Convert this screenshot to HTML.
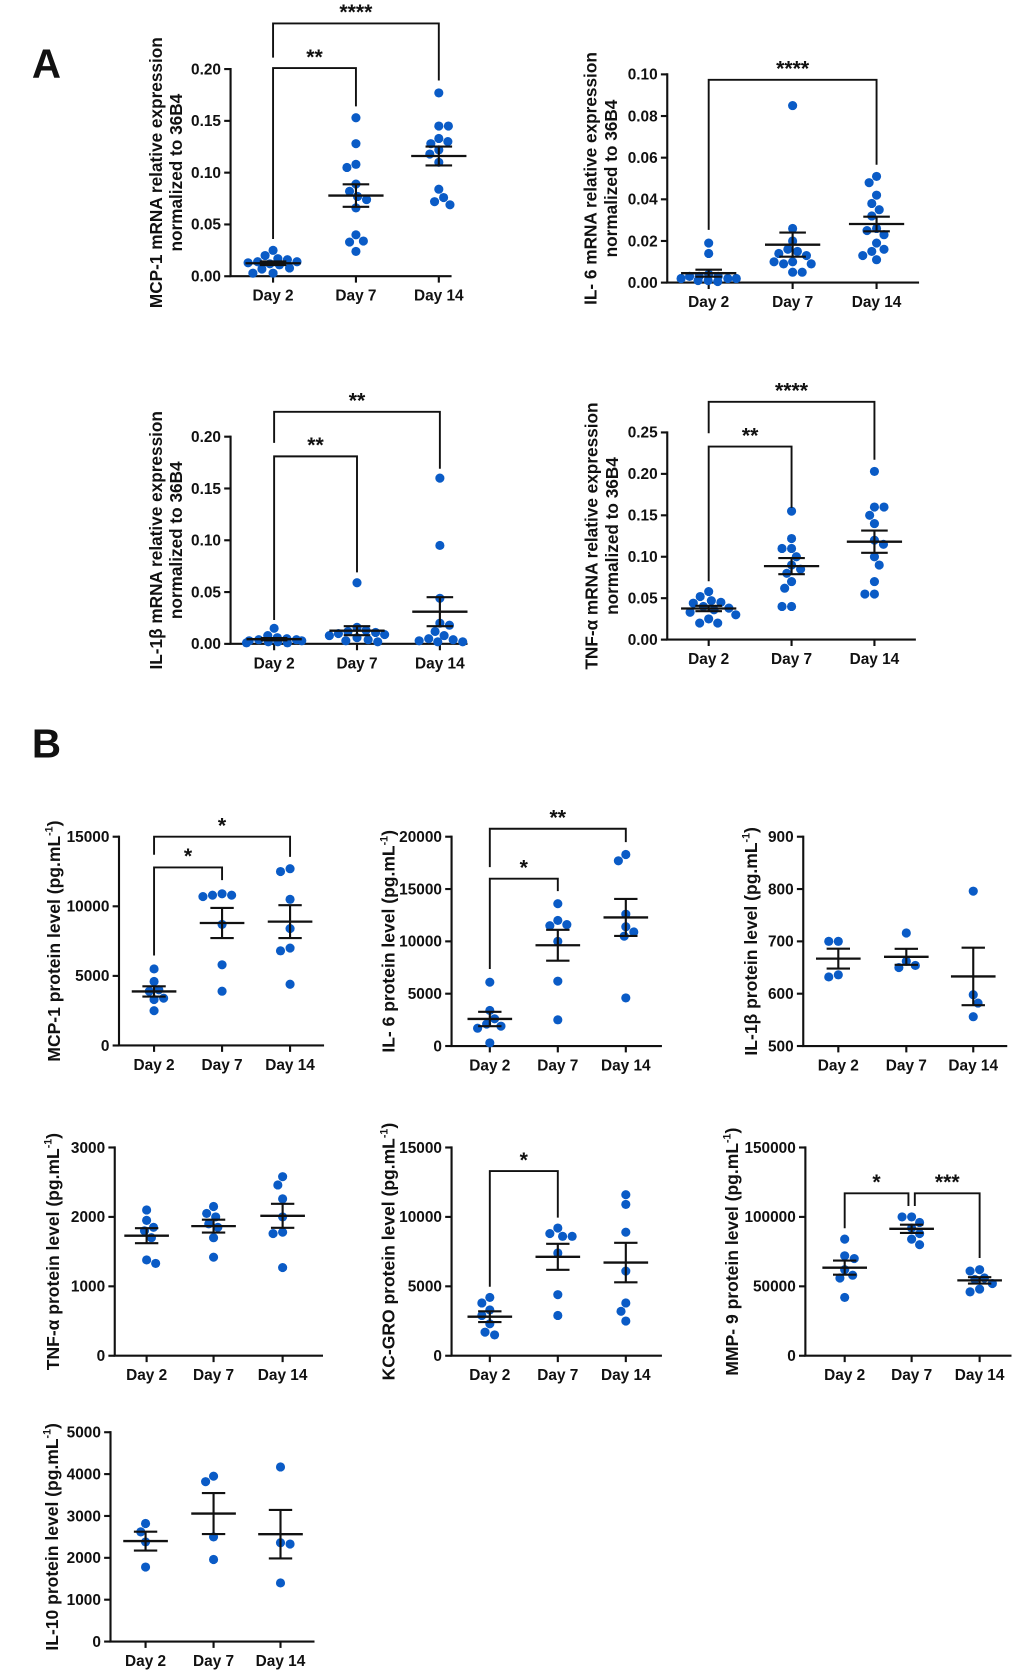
<!DOCTYPE html>
<html><head><meta charset="utf-8"><style>
html,body{margin:0;padding:0;background:#fff;}
svg{display:block;}
text{font-family:"Liberation Sans",Arial,sans-serif;font-weight:bold;fill:#111;}
</style></head><body>
<svg id="fig" width="1020" height="1673" viewBox="0 0 960 1574.6" preserveAspectRatio="none" xmlns="http://www.w3.org/2000/svg">
<text x="30" y="73" font-size="38">A</text>
<text x="30" y="713" font-size="38">B</text>
</svg>
<script>
const categories = ["Day 2","Day 7","Day 14"];
// A1 MCP-1 mRNA
const mcp1mRNA_d2 = [0.016,0.017,0.020,0.025,0.013,0.012,0.011,0.014,0.007,0.008,0.003,0.003,0.014];
const mcp1mRNA_d7 = [0.153,0.128,0.105,0.108,0.089,0.082,0.074,0.077,0.066,0.040,0.033,0.034,0.024];
const mcp1mRNA_d14 = [0.177,0.145,0.145,0.133,0.128,0.130,0.122,0.118,0.110,0.084,0.076,0.069,0.072];
// A2 IL-6 mRNA
const il6mRNA_d2 = [0.019,0.014,0.004,0.003,0.002,0.002,0.001,0.0005,0.001,0.002,0.003,0.003];
const il6mRNA_d7 = [0.085,0.026,0.020,0.016,0.015,0.014,0.013,0.010,0.010,0.009,0.009,0.005,0.005];
const il6mRNA_d14 = [0.051,0.048,0.042,0.038,0.035,0.032,0.026,0.025,0.023,0.019,0.016,0.015,0.013,0.011];
// A3 IL-1b mRNA
const il1bmRNA_d2 = [0.015,0.008,0.006,0.005,0.004,0.003,0.003,0.002,0.002,0.001,0.001,0.004];
const il1bmRNA_d7 = [0.059,0.016,0.013,0.012,0.011,0.010,0.009,0.008,0.006,0.004,0.003,0.002];
const il1bmRNA_d14 = [0.160,0.095,0.044,0.020,0.018,0.012,0.008,0.005,0.004,0.003,0.002,0.002];
// A4 TNF-a mRNA
const tnfmRNA_d2 = [0.058,0.052,0.047,0.045,0.044,0.040,0.038,0.036,0.033,0.030,0.025,0.020,0.020];
const tnfmRNA_d7 = [0.155,0.122,0.110,0.110,0.100,0.090,0.085,0.080,0.070,0.062,0.040,0.040];
const tnfmRNA_d14 = [0.203,0.160,0.160,0.150,0.140,0.120,0.115,0.100,0.090,0.070,0.055,0.055];
// B proteins
const mcp1P_d2 = [5500,4600,4000,3900,3300,3400,2500];
const mcp1P_d7 = [10900,10800,10700,10800,8700,5800,3900];
const mcp1P_d14 = [12700,12500,10500,8400,7000,6800,4400];
const il6P_d2 = [6100,3400,2600,2100,1900,1700,300];
const il6P_d7 = [13600,12000,11600,11500,10000,6200,2500];
const il6P_d14 = [18300,17700,12600,11400,10900,10500,4600];
const il1bP_d2 = [700,700,632,636];
const il1bP_d7 = [716,662,650,654];
const il1bP_d14 = [796,598,582,556];
const tnfP_d2 = [2100,1950,1850,1800,1700,1380,1330];
const tnfP_d7 = [2150,2050,2000,1900,1850,1700,1420];
const tnfP_d14 = [2580,2460,2260,2000,1780,1760,1270];
const kcP_d2 = [4200,3800,3300,2900,2300,1700,1500];
const kcP_d7 = [9200,8800,8600,8600,7400,4400,2900];
const kcP_d14 = [11600,10900,8900,6100,3800,3200,2500];
const mmpP_d2 = [84000,72000,70000,62000,58000,56000,42000];
const mmpP_d7 = [100000,100000,96000,92000,88000,84000,80000];
const mmpP_d14 = [62000,61000,56000,55000,52000,48000,46000];
const il10P_d2 = [2820,2620,2380,1780];
const il10P_d7 = [3950,3820,2500,1960];
const il10P_d14 = [4170,2360,2330,1400];

const NS="http://www.w3.org/2000/svg";
const svg=document.getElementById('fig');
function mk(tag,attrs,parent){const e=document.createElementNS(NS,tag);for(const k in attrs)e.setAttribute(k,attrs[k]);(parent||svg).appendChild(e);return e;}

const panels=[
 {id:'mcp1-mrna',ax:217,bottom:260,top:65,right:425,min:0,max:0.20,step:0.05,dec:2,cats:[257,335,413],data:[mcp1mRNA_d2,mcp1mRNA_d7,mcp1mRNA_d14],
  lab:["MCP-1 mRNA relative expression","normalized to 36B4"],labx:[147,166],mw:26,cw:12.5,
  br:[{a:0,b:1,y:0.201,la:0.036,lb:0.164,t:"**"},{a:0,b:2,y:0.244,la:0.211,lb:0.189,t:"****"}]},
 {id:'il6-mrna',ax:628,bottom:266,top:70,right:865,min:0,max:0.10,step:0.02,dec:2,cats:[667,746,825],data:[il6mRNA_d2,il6mRNA_d7,il6mRNA_d14],
  lab:["IL- 6 mRNA relative expression","normalized to 36B4"],labx:[556,575],mw:26,cw:12.5,
  br:[{a:0,b:2,y:0.0974,la:0.0253,lb:0.0566,t:"****"}]},
 {id:'il1b-mrna',ax:217,bottom:606,top:411,right:440,min:0,max:0.20,step:0.05,dec:2,cats:[258,336,414],data:[il1bmRNA_d2,il1bmRNA_d7,il1bmRNA_d14],
  lab:["IL-1β mRNA relative expression","normalized to 36B4"],labx:[147,166],mw:26,cw:12.5,
  br:[{a:0,b:1,y:0.181,la:0.023,lb:0.069,t:"**"},{a:0,b:2,y:0.224,la:0.194,lb:0.169,t:"**"}]},
 {id:'tnf-mrna',ax:628,bottom:602,top:407,right:862,min:0,max:0.25,step:0.05,dec:2,cats:[667,745,823],data:[tnfmRNA_d2,tnfmRNA_d7,tnfmRNA_d14],
  lab:["TNF-α mRNA relative expression","normalized to 36B4"],labx:[557,576],mw:26,cw:12.5,
  br:[{a:0,b:1,y:0.233,la:0.0705,lb:0.159,t:"**"},{a:0,b:2,y:0.287,la:0.249,lb:0.217,t:"****"}]},
 {id:'mcp1-protein',ax:112,bottom:984,top:787.5,right:305,min:0,max:15000,step:5000,dec:0,cats:[145,209,273],data:[mcp1P_d2,mcp1P_d7,mcp1P_d14],
  lab:["MCP-1 protein level (pg.mL"],labx:[51],mw:21,cw:11,
  br:[{a:0,b:1,y:12790,la:6470,lb:11880,t:"*"},{a:0,b:2,y:15000,la:13700,lb:13550,t:"*"}]},
 {id:'il6-protein',ax:425,bottom:984.5,top:787.5,right:623,min:0,max:20000,step:5000,dec:0,cats:[461,525,589],data:[il6P_d2,il6P_d7,il6P_d14],
  lab:["IL- 6 protein level (pg.mL"],labx:[366],mw:21,cw:11,
  br:[{a:0,b:1,y:15990,la:7360,lb:14800,t:"*"},{a:0,b:2,y:20760,la:17100,lb:19480,t:"**"}]},
 {id:'il1b-protein',ax:756,bottom:984.5,top:787.5,right:948,min:500,max:900,step:100,dec:0,cats:[789,853,916],data:[il1bP_d2,il1bP_d7,il1bP_d14],
  lab:["IL-1β protein level (pg.mL"],labx:[707],mw:21,cw:11,br:[]},
 {id:'tnf-protein',ax:108,bottom:1276,top:1080,right:304,min:0,max:3000,step:1000,dec:0,cats:[138,201,266],data:[tnfP_d2,tnfP_d7,tnfP_d14],
  lab:["TNF-α protein level (pg.mL"],labx:[50],mw:21,cw:11,br:[]},
 {id:'kcgro-protein',ax:425,bottom:1276,top:1080,right:623,min:0,max:15000,step:5000,dec:0,cats:[461,525,589],data:[kcP_d2,kcP_d7,kcP_d14],
  lab:["KC-GRO protein level (pg.mL"],labx:[366],mw:21,cw:11,
  br:[{a:0,b:1,y:13300,la:4970,lb:9950,t:"*"}]},
 {id:'mmp9-protein',ax:758,bottom:1276,top:1080,right:952,min:0,max:150000,step:50000,dec:0,cats:[795,858,922],data:[mmpP_d2,mmpP_d7,mmpP_d14],
  lab:["MMP- 9 protein level (pg.mL"],labx:[689],mw:21,cw:11,
  br:[{a:0,b:1,y:117000,la:91800,lb:107900,t:"*",ob:-3},{a:1,b:2,y:117000,la:107900,lb:70400,t:"***",oa:3}]},
 {id:'il10-protein',ax:104,bottom:1545,top:1348,right:296,min:0,max:5000,step:1000,dec:0,cats:[137,201,264],data:[il10P_d2,il10P_d7,il10P_d14],
  lab:["IL-10 protein level (pg.mL"],labx:[49],mw:21,cw:11,br:[]}
];

const R=4.3, COLOR="#0a5bc6", MAXOFF=26;
panels.forEach(p=>{
  const g=mk('g',{});
  
  
  const yS=v=>p.bottom-(v-p.min)/(p.max-p.min)*(p.bottom-p.top);
  const ya=mk('line',{x1:p.ax,y1:p.top-1,x2:p.ax,y2:p.bottom,stroke:'#111','stroke-width':2},g);
  
  const xa=mk('line',{x1:p.ax-1,y1:p.bottom,x2:p.right,y2:p.bottom,stroke:'#111','stroke-width':2},g);
  
  for(let v=p.min;v<=p.max+1e-9;v+=p.step){
    const y=yS(v);
    mk('line',{x1:p.ax-6,y1:y,x2:p.ax,y2:y,stroke:'#111','stroke-width':2},g);
    const t=mk('text',{x:p.ax-9,y:y+5,'font-size':14.5,'text-anchor':'end'},g);
    t.textContent=v.toFixed(p.dec);
    
  }
  p.cats.forEach((cx,i)=>{
    mk('line',{x1:cx,y1:p.bottom,x2:cx,y2:p.bottom+6,stroke:'#111','stroke-width':2},g);
    const t=mk('text',{x:cx,y:p.bottom+23,'font-size':14.5,'text-anchor':'middle'},g);
    t.textContent=categories[i];
    
  });
  const ymid=(p.top+p.bottom)/2;
  p.lab.forEach((s,i)=>{
    const fs=p.lab.length===1?16.5:16.2;
    const t=mk('text',{x:p.labx[i],y:ymid,'font-size':fs,'text-anchor':'middle',transform:`rotate(-90 ${p.labx[i]} ${ymid})`,dy:5.5},g);
    t.textContent=s;
    if(p.lab.length===1){const sup=mk('tspan',{'font-size':10,dy:-7},t);sup.textContent='-1';const cl=mk('tspan',{dy:7},t);cl.textContent=')';}
    
  });
  p.data.forEach((arr,i)=>{
    const cx=p.cats[i];
    const placed=[];
    const order=arr.map((v,k)=>k).sort((a,b)=>arr[b]-arr[a]);
    const thr=2*R*1.05;
    order.forEach(k=>{
      const y=yS(arr[k]);
      let best=null, bestCost=1e9;
      for(let d=0;d<=MAXOFF;d+=0.5){
        for(const s of (placed.length%2?[-1,1]:[1,-1])){
          const x=cx+s*d;
          let ov=0;
          placed.forEach(q=>{const dd=Math.hypot(q.x-x,q.y-y);if(dd<thr)ov+=thr-dd;});
          const cost=ov*10+d*0.01;
          if(cost<bestCost){bestCost=cost;best=x;}
        }
        if(bestCost<1)break;
      }
      placed.push({x:best,y:y});
      const c=mk('circle',{cx:best,cy:y,r:R,fill:COLOR},g);
      
    });
    const n=arr.length, mean=arr.reduce((a,b)=>a+b,0)/n;
    const sd=Math.sqrt(arr.reduce((a,b)=>a+(b-mean)*(b-mean),0)/(n-1)), sem=sd/Math.sqrt(n);
    const ym=yS(mean), yh=yS(mean+sem), yl=yS(mean-sem);
    const ml=mk('line',{x1:cx-p.mw,y1:ym,x2:cx+p.mw,y2:ym,stroke:'#111','stroke-width':2.2},g);
    
    const eb=mk('path',{d:`M${cx},${yh}V${yl}M${cx-p.cw},${yh}H${cx+p.cw}M${cx-p.cw},${yl}H${cx+p.cw}`,stroke:'#111','stroke-width':2,fill:'none'},g);
    
  });
  p.br.forEach(b=>{
    const xa=p.cats[b.a]+(b.oa||0), xb=p.cats[b.b]+(b.ob||0), y=yS(b.y);
    const pa=mk('path',{d:`M${xa},${yS(b.la)}V${y}H${xb}V${yS(b.lb)}`,stroke:'#111','stroke-width':1.8,fill:'none'},g);
    
    const t=mk('text',{x:(xa+xb)/2,y:y-4,'font-size':20,'text-anchor':'middle'},g);
    t.textContent=b.t;
    
  });
});
</script>
</body></html>
